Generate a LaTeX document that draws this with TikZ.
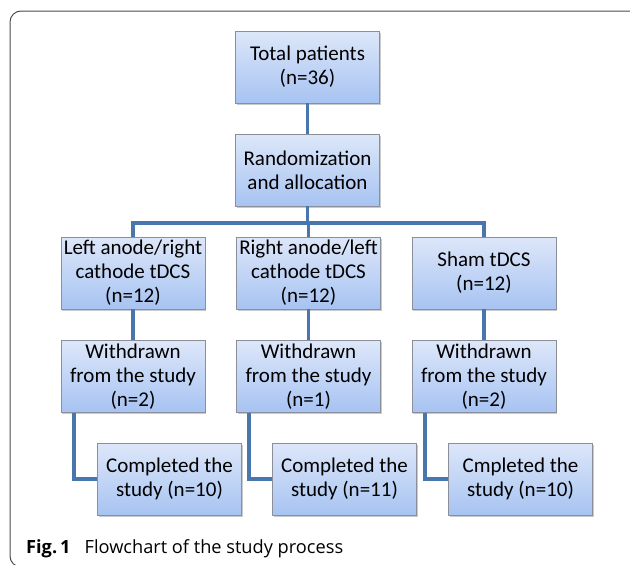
\documentclass[tikz,border=0pt]{standalone}
\usepackage{fontspec}
\setmainfont{Carlito}
\newfontfamily\capfont{Open Sans}
\usetikzlibrary{shadows,calc}
\definecolor{linkblue}{HTML}{4A76AE}
\definecolor{boxtop}{HTML}{DDE7F9}
\definecolor{boxbot}{HTML}{A7C3F2}
\definecolor{boxedge}{HTML}{8A8F99}
\tikzset{
  flowbox/.style={rectangle, draw=boxedge, line width=0.8pt,
    top color=boxtop, bottom color=boxbot,
    minimum width=144pt, minimum height=72pt, inner sep=1pt,
    align=center, font=\fontsize{21}{24}\selectfont,
    drop shadow={shadow xshift=1.2pt, shadow yshift=-1.8pt, opacity=0.35, fill=black!60}},
  link/.style={draw=linkblue, line width=3.8pt},
}
\begin{document}
\begin{tikzpicture}[x=1pt,y=-1pt]
\useasboundingbox (0,0) rectangle (630,565);
% frame
\draw[line width=1pt, draw=black!70, rounded corners=11pt] (660,11) -- (10,11) -- (10,567) -- (660,567);
% boxes
\node[flowbox] (total) at (307.5,67) {Total patients\\(n=36)};
\node[flowbox] (rand) at (307.5,170) {Randomization\\and allocation};
\node[flowbox] (L1) at (133,273) {Left anode/right\\cathode tDCS\\(n=12)};
\node[flowbox] (M1) at (308.5,273) {Right anode/left\\cathode tDCS\\(n=12)};
\node[flowbox] (S1) at (484,273) {Sham tDCS\\(n=12)};
\node[flowbox] (L2) at (133,376.5) {Withdrawn\\from the study\\(n=2)};
\node[flowbox] (M2) at (308.5,376.5) {Withdrawn\\from the study\\(n=1)};
\node[flowbox] (S2) at (484,376.5) {Withdrawn\\from the study\\(n=2)};
\node[flowbox] (L3) at (169.5,479) {Completed the\\study (n=10)};
\node[flowbox] (M3) at (344.5,479) {Completed the\\study (n=11)};
\node[flowbox] (S3) at (520.5,479) {Cmpleted the\\study (n=10)};
\coordinate (bus) at (307.5,223);
% connectors
\draw[link] (total.south) -- (rand.north);
\draw[link] (rand.south) -- (bus);
\draw[link] (bus) -| (L1.north);
\draw[link] (bus) -| (S1.north);
\draw[link] (bus -| M1.north) -- (M1.north);
\draw[link] (L1.south) -- (L2.north);
\draw[link] (M1.south) -- (M2.north);
\draw[link] (S1.south) -- (S2.north);
\draw[link] ([xshift=13pt]L2.south west) |- (L3.west);
\draw[link] ([xshift=13pt]M2.south west) |- (M3.west);
\draw[link] ([xshift=13pt]S2.south west) |- (S3.west);
% caption
\node[anchor=base west, inner sep=0pt, font=\capfont\fontsize{18.2}{21}\selectfont] (cap) at (26,553) {\textbf{Fig.\,1}\hspace{14pt}Flowchart of the study process};
\end{tikzpicture}
\end{document}
